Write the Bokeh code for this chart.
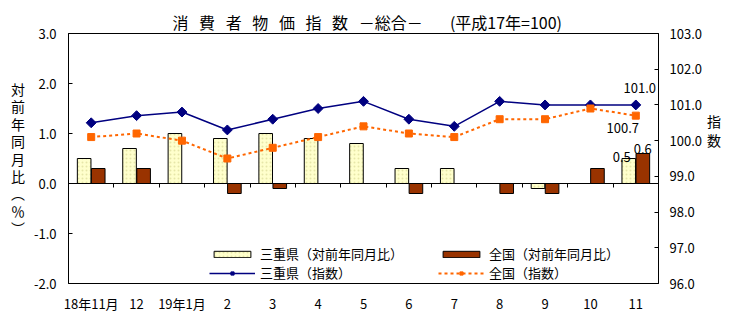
from math import pi
from bokeh.plotting import figure
from bokeh.models import (ColumnDataSource, Range1d, LinearAxis, FixedTicker, NumeralTickFormatter,
                          Legend, LegendItem, Title)
from bokeh.transform import dodge
from bokeh.core.properties import value
from bokeh.embed import file_html
from bokeh.resources import INLINE

# ---- data ----
months = ["18年11月", "12", "19年1月", "2", "3", "4", "5", "6", "7", "8", "9", "10", "11"]
mie_yoy = [0.5, 0.7, 1.0, 0.9, 1.0, 0.9, 0.8, 0.3, 0.3, 0.0, -0.1, 0.0, 0.5]
nat_yoy = [0.3, 0.3, 0.0, -0.2, -0.1, 0.0, 0.0, -0.2, 0.0, -0.2, -0.2, 0.3, 0.6]
mie_idx = [100.5, 100.7, 100.8, 100.3, 100.6, 100.9, 101.1, 100.6, 100.4, 101.1, 101.0, 101.0, 101.0]
nat_idx = [100.1, 100.2, 100.0, 99.5, 99.8, 100.1, 100.4, 100.2, 100.1, 100.6, 100.6, 100.9, 100.7]
left_ticks = [-2, -1, 0, 1, 2, 3]
right_ticks = [96, 97, 98, 99, 100, 101, 102, 103]
_sp = "\u2009\u2009\u2009\u200a"
title_main = _sp.join("消費者物価指数") + _sp + "－総合－"
title_sub = "(平成17年=100)"

FONT = "Noto Sans CJK JP"
n = len(months)
xpos = [i + 0.5 for i in range(n)]          # category centres
bounds = list(range(1, n))                    # category boundaries

src = ColumnDataSource(dict(x=xpos, mie_yoy=mie_yoy, nat_yoy=nat_yoy,
                            mie_idx=mie_idx, nat_idx=nat_idx))

p = figure(width=729, height=328, x_range=Range1d(0, n), y_range=Range1d(-2, 3),
           output_backend="svg", toolbar_location=None,
           min_border_left=68, min_border_right=71, min_border_top=33, min_border_bottom=45)
p.extra_y_ranges = {"idx": Range1d(96, 103)}
p.xgrid.grid_line_color = None
p.ygrid.grid_line_color = None
p.outline_line_color = "black"
p.outline_line_alpha = 1
p.outline_line_width = 1
p.background_fill_color = "white"
p.border_fill_color = "white"

# chart title
p.add_layout(Title(text=title_main + "\u3000\u2002\u2009" + title_sub, align="left", offset=104,
                   standoff=0, text_font=FONT, text_font_size="16px", text_font_style="normal",
                   text_color="black"), "above")

# main x axis (month labels only)
xax = p.xaxis[0]
xax.ticker = FixedTicker(ticks=xpos)
xax.major_label_overrides = {x: m for x, m in zip(xpos, months)}
xax.axis_line_color = None
xax.major_tick_line_color = None
xax.minor_tick_line_color = None
xax.major_label_standoff = 4
xax.major_label_text_font = FONT
xax.major_label_text_font_size = "13px"
xax.major_label_text_color = "black"

# left axis
yax = p.yaxis[0]
yax.ticker = FixedTicker(ticks=left_ticks)
yax.formatter = NumeralTickFormatter(format="0.0")
yax.major_tick_in = 4
yax.major_tick_out = 0
yax.minor_tick_line_color = None
yax.axis_line_color = "black"
yax.major_label_standoff = 12
yax.major_label_text_font = FONT
yax.major_label_text_font_size = "13px"
yax.major_label_text_color = "black"
yax.axis_label = "対\n前\n年\n同\n月\n比\n︵\n％\n︶"
yax.axis_label_orientation = "horizontal"
yax.axis_label_text_font = FONT
yax.axis_label_text_font_size = "14px"
yax.axis_label_text_font_style = "normal"
yax.axis_label_text_line_height = 0.87
yax.axis_label_text_color = "black"
yax.axis_label_standoff = 6

# right axis
rax = LinearAxis(y_range_name="idx", ticker=FixedTicker(ticks=right_ticks),
                 formatter=NumeralTickFormatter(format="0.0"),
                 major_tick_in=4, major_tick_out=0, minor_tick_line_color=None,
                 axis_line_color="black", major_label_standoff=11,
                 major_label_text_font=FONT, major_label_text_font_size="13px",
                 major_label_text_color="black",
                 axis_label="指\n数\n　\n　\n　", axis_label_orientation="horizontal",
                 axis_label_text_font=FONT, axis_label_text_font_size="14px",
                 axis_label_text_font_style="normal", axis_label_text_line_height=0.93,
                 axis_label_text_color="black", axis_label_standoff=2)
p.add_layout(rax, "right")

# zero line with ticks between categories
zax = LinearAxis(fixed_location=0, ticker=FixedTicker(ticks=bounds),
                 major_tick_in=0, major_tick_out=4, minor_tick_line_color=None,
                 axis_line_color="black", major_tick_line_color="black",
                 major_label_overrides={b: "" for b in bounds})
p.add_layout(zax, "below")

# bars
r_mie_bar = p.vbar(x=dodge("x", -0.155), top="mie_yoy", width=0.3, source=src,
                   fill_color="#FFFFCC", line_color="black", line_width=1,
                   hatch_pattern=".", hatch_color="#E6E6A8", hatch_scale=4, hatch_weight=1)
r_nat_bar = p.vbar(x=dodge("x", 0.155), top="nat_yoy", width=0.3, source=src,
                   fill_color="#993300", line_color="black", line_width=1)

# lines
r_mie_line = p.line("x", "mie_idx", source=src, y_range_name="idx", line_color="#000080", line_width=1.5)
r_mie_pts = p.scatter("x", "mie_idx", source=src, y_range_name="idx", marker="square", angle=pi / 4,
                      size=7, fill_color="#000080", line_color="#000080")
r_nat_line = p.line("x", "nat_idx", source=src, y_range_name="idx", line_color="#FF6600",
                    line_width=2, line_dash="3 3")
r_nat_pts = p.scatter("x", "nat_idx", source=src, y_range_name="idx", marker="square",
                      size=7, fill_color="#FF6600", line_color="#FF6600")

# data labels on the last month
last = xpos[-1]
p.text(x=[last], y=[mie_idx[-1]], text=[f"{mie_idx[-1]:.1f}"], y_range_name="idx",
       x_offset=4, y_offset=-17, text_align="center", text_baseline="middle",
       text_font=value(FONT), text_font_size="13px", text_color="black")
p.text(x=[last], y=[nat_idx[-1]], text=[f"{nat_idx[-1]:.1f}"], y_range_name="idx",
       x_offset=-13, y_offset=12, text_align="center", text_baseline="middle",
       text_font=value(FONT), text_font_size="13px", text_color="black")
p.text(x=[last], y=[mie_yoy[-1]], text=[f"{mie_yoy[-1]:.1f}"],
       x_offset=-14, y_offset=-2, text_align="center", text_baseline="alphabetic",
       text_font=value(FONT), text_font_size="13px", text_color="black")
p.text(x=[last], y=[nat_yoy[-1]], text=[f"{nat_yoy[-1]:.1f}"],
       x_offset=7, y_offset=-5, text_align="center", text_baseline="alphabetic",
       text_font=value(FONT), text_font_size="13px", text_color="black")

# legends
def add_legend(label, renderers, loc):
    lg = Legend(items=[LegendItem(label=label, renderers=renderers)], location=loc,
                orientation="horizontal", glyph_width=46, glyph_height=8, label_standoff=5,
                padding=0, margin=0, spacing=0, border_line_color=None, background_fill_alpha=0,
                label_text_font=FONT, label_text_font_size="13px", label_height=14,
                label_text_color="black")
    p.add_layout(lg)

add_legend("三重県（対前年同月比）", [r_mie_bar], (141, 20))
add_legend("全国（対前年同月比）", [r_nat_bar], (370, 20))
add_legend("三重県（指数）", [r_mie_line, r_mie_pts], (141, 1))
add_legend("全国（指数）", [r_nat_line, r_nat_pts], (370, 1))

open("out.html", "w").write(file_html(p, INLINE))
